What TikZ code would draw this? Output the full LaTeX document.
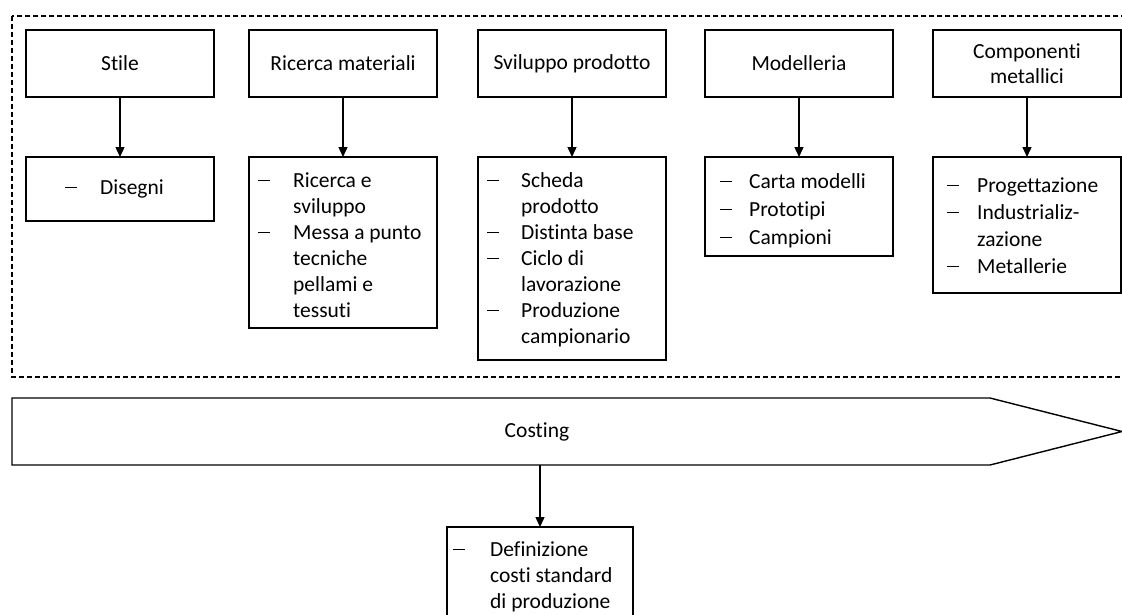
\documentclass[tikz,border=0pt]{standalone}
\usepackage{fontspec}
\setmainfont{Carlito}[Ligatures={TeX,NoCommon}]
\usetikzlibrary{arrows.meta,calc}
% bullet dash and two-column bullet list (dash column of width #1 pt, then the text)
\newcommand\bdash{\rule[6.2pt]{12pt}{1.3pt}}
\newcommand\dashlist[2]{\begin{tabular}[t]{@{}p{#1pt}@{}l@{}}#2\end{tabular}}

\begin{document}
\begin{tikzpicture}[x=1pt,y=-1pt,
  frame/.style={draw=black,line width=1.4pt},
  head/.style={frame,minimum width=187pt,minimum height=67pt,inner sep=0pt,
    outer sep=0pt,align=center,font=\fontsize{21.5}{25}\selectfont},
  listbox/.style={frame,anchor=north west,inner sep=0pt,outer sep=0pt},
  listtext/.style={anchor=base west,inner sep=0pt,font=\fontsize{21.5}{26}\selectfont},
  link/.style={line width=1.4pt,-{Triangle[length=10pt,width=9pt]}},
]
\useasboundingbox (0,0) rectangle (1122,614);
\clip (0,0) rectangle (1122,614);

% dashed frame around the development phases
\draw[line width=1.2pt,dash pattern=on 5pt off 3pt] (12,16) rectangle (1140,377);

% phase headers
\node[head,minimum width=188pt] (stile) at (120,63.5) {Stile};
\node[head,minimum width=188pt] (ricerca) at (343,63.5) {Ricerca materiali};
\node[head,minimum width=188pt] (sviluppo) at (572,63.5) {Sviluppo prodotto};
\node[head,minimum width=188pt] (modelleria) at (799,63.5) {Modelleria};
\node[head,minimum width=188pt] (componenti) at (1027,63.5) {Componenti\\metallici};

% activity boxes
\node[listbox,minimum width=188pt,minimum height=64pt] (disegni) at (26,157) {};
\node[listbox,minimum width=188pt,minimum height=171pt] (ricercalist) at (249,157) {};
\node[listbox,minimum width=188pt,minimum height=203pt] (svilupplist) at (478,157) {};
\node[listbox,minimum width=188pt,minimum height=99pt] (modellist) at (705,157) {};
\node[listbox,minimum width=188pt,minimum height=136pt] (complist) at (933,157) {};

% activity texts
\node[listtext] (disegnitxt) at (65,194) {\dashlist{35}{\bdash & Disegni}};
\node[listtext] (ricercatxt) at (258,187) {\dashlist{35}{%
  \bdash & Ricerca e\\ & sviluppo\\ \bdash & Messa a punto\\ & tecniche\\ & pellami e\\ & tessuti}};
\node[listtext] (svilupptxt) at (487,187) {\dashlist{34}{%
  \bdash & Scheda\\ & prodotto\\ \bdash & Distinta base\\ \bdash & Ciclo di\\ & lavorazione\\
  \bdash & Produzione\\ & campionario}};
\node[listtext,font=\fontsize{21.5}{28}\selectfont] (modeltxt) at (720,188) {\dashlist{29}{%
  \bdash & Carta modelli\\ \bdash & Prototipi\\ \bdash & Campioni}};
\node[listtext,font=\fontsize{21.5}{27}\selectfont] (comptxt) at (947,192) {\dashlist{30}{%
  \bdash & Progettazione\\ \bdash & Industrializ-\\ & zazione\\ \bdash & Metallerie}};

% header to activity links
\draw[link] (stile.south) -- (stile.south |- disegni.north);
\draw[link] (ricerca.south) -- (ricerca.south |- ricercalist.north);
\draw[link] (sviluppo.south) -- (sviluppo.south |- svilupplist.north);
\draw[link] (modelleria.south) -- (modelleria.south |- modellist.north);
\draw[link] (componenti.south) -- (componenti.south |- complist.north);

% costing band
\draw[frame,line join=miter] (12,398) -- (990,398) -- (1122,431.5) -- (990,465) -- (12,465) -- cycle;
\coordinate (costbottom) at (540,465);
\node[font=\fontsize{21.5}{25}\selectfont,inner sep=0pt] (costing) at (537,432) {Costing};

% costing outcome
\node[listbox,minimum width=186pt,minimum height=120pt] (defin) at (447,527) {};
\node[listtext] (defintxt) at (453,556) {\dashlist{37}{%
  \bdash & Definizione\\ & costi standard\\ & di produzione}};
\draw[link] (costbottom) -- (costbottom |- defin.north);
\end{tikzpicture}
\end{document}
